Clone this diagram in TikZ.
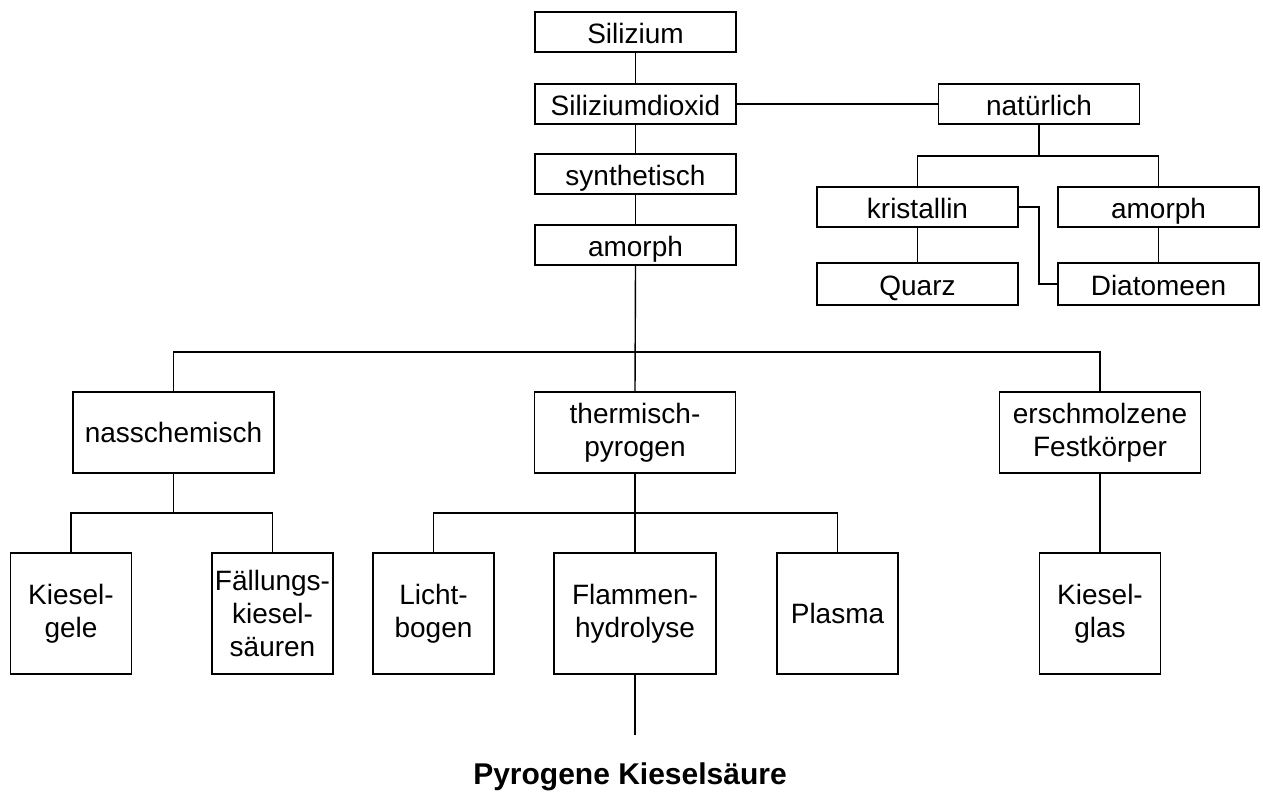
\documentclass[tikz,border=0pt]{standalone}
\usepackage{fontspec}
\setmainfont{Liberation Sans}
\usepackage{tikz}
\usetikzlibrary{positioning, calc}

\tikzset{
  box/.style={draw, line width=1.8pt, inner sep=1pt, align=center,
    font=\fontsize{28}{33}\selectfont, anchor=center},
  flatbox/.style={box, minimum width=201pt, minimum height=40pt,
    text height=24pt, text depth=2pt},
  tallbox/.style={box, minimum width=201pt, minimum height=81pt},
  leafbox/.style={box, minimum width=121pt, minimum height=121pt},
  link/.style={line width=1.4pt}
}

\begin{document}
\begin{tikzpicture}[x=1pt, y=-1pt]
  \useasboundingbox (0,0) rectangle (1263,798);
  % Stamm
  \node[flatbox] (sil) at (635.5,32) {Silizium};
  \node[flatbox] (dioxid) at (635.5,104) {Siliziumdioxid};
  \node[flatbox] (synth) at (635.5,174) {synthetisch};
  \node[flatbox] (amorphL) at (635.5,245) {amorph};
  % natuerlich
  \node[flatbox] (nat) at (1039,104) {natürlich};
  \node[flatbox] (krist) at (917.5,207) {kristallin};
  \node[flatbox] (amorphR) at (1158.5,207) {amorph};
  \node[flatbox, minimum height=42pt] (quarz) at (917.5,284) {Quarz};
  \node[flatbox, minimum height=42pt] (diat) at (1158.5,284) {Diatomeen};
  % Verfahren
  \node[tallbox] (nass) at (173.5,432.5) {nasschemisch};
  \node[tallbox] (therm) at (635,432.5) {thermisch-\\pyrogen};
  \node[tallbox] (ersch) at (1100,432.5) {erschmolzene\\Festkörper};
  % Produkte
  \node[leafbox] (gele) at (71,613.5) {Kiesel-\\gele};
  \node[leafbox] (faell) at (272.5,613.5) {Fällungs-\\kiesel-\\säuren};
  \node[leafbox] (licht) at (433.5,613.5) {Licht-\\bogen};
  \node[leafbox, minimum width=162pt] (flamm) at (635,613.5) {Flammen-\\hydrolyse};
  \node[leafbox] (plasma) at (837.5,613.5) {Plasma};
  \node[leafbox] (glas) at (1100,613.5) {Kiesel-\\glas};
  \node[font=\fontsize{30}{36}\selectfont\bfseries] (pyro) at (630,777) {Pyrogene Kieselsäure};

  \coordinate (busN) at (1039,156);
  \coordinate (busA) at (635.5,352);
  \coordinate (busW) at (173.5,513);
  \coordinate (busT) at (635,513);
  \coordinate (flammEnd) at (635,735);

  % Verbindungen
  \draw[link] (sil) -- (dioxid);
  \draw[link] (dioxid) -- (synth);
  \draw[link] (synth) -- (amorphL);
  \draw[link] (dioxid) -- (nat);
  \draw[link] (nat) -- (busN);
  \draw[link] (krist.north) |- (busN) -| (amorphR.north);
  \draw[link] (krist) -- (quarz);
  \draw[link] (amorphR) -- (diat);
  \draw[link] (krist.east) -- ++(20,0) |- (diat.west);
  \draw[link] (amorphL.south) -- (therm.north);
  \draw[link] (nass.north) |- (busA) -| (ersch.north);
  \draw[link] (nass) -- (busW);
  \draw[link] (gele.north) |- (busW) -| (faell.north);
  \draw[link] (therm) -- (flamm);
  \draw[link] (licht.north) |- (busT) -| (plasma.north);
  \draw[link] (ersch) -- (glas);
  \draw[link] (flamm) -- (flammEnd);
\end{tikzpicture}
\end{document}
